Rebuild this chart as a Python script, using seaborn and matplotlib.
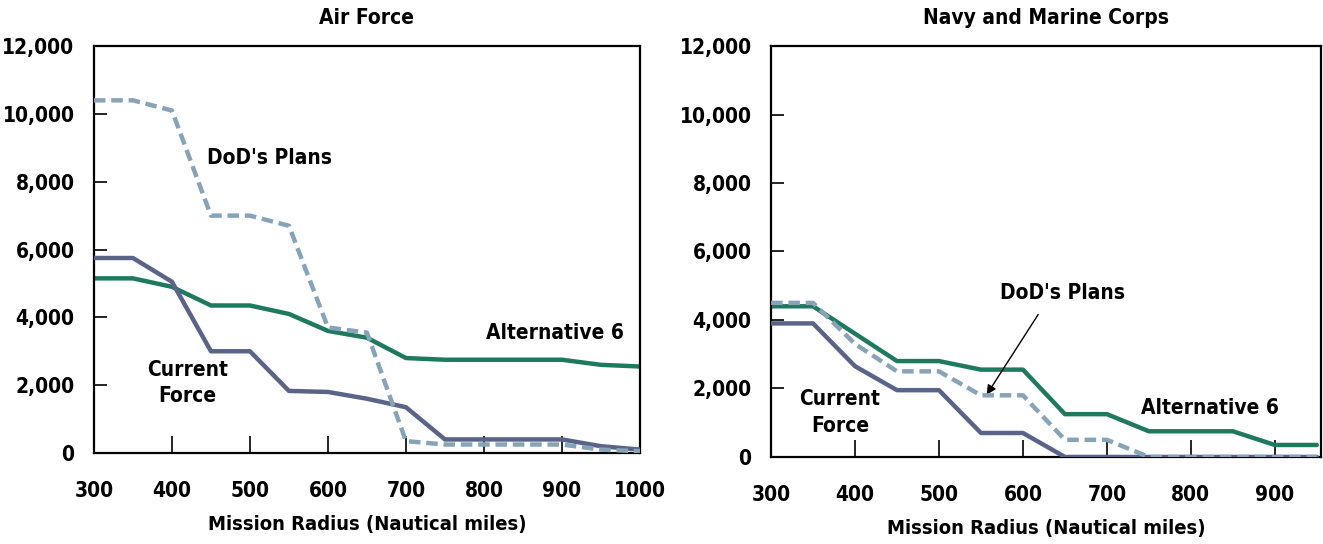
import matplotlib
matplotlib.use("Agg")
import matplotlib.pyplot as plt
import seaborn as sns
import pandas as pd

sns.set_style("white")
plt.rcParams['font.family'] = ['DejaVu Sans']
plt.rcParams['font.stretch'] = 'condensed'
plt.rcParams['text.color'] = 'black'
plt.rcParams['xtick.color'] = 'black'
plt.rcParams['ytick.color'] = 'black'
plt.rcParams['axes.labelcolor'] = 'black'

# Air Force
af_radius = [300, 350, 400, 450, 500, 550, 600, 650, 700, 750, 800, 850, 900, 950, 1000]
af_current = [5750, 5750, 5050, 3000, 3000, 1830, 1800, 1600, 1350, 400, 400, 400, 400, 200, 100]
af_alt6 = [5150, 5150, 4900, 4350, 4350, 4100, 3600, 3400, 2800, 2750, 2750, 2750, 2750, 2600, 2550]
af_dod = [10400, 10400, 10100, 7000, 7000, 6700, 3700, 3550, 350, 250, 250, 250, 250, 100, 50]

# Navy and Marine Corps
nv_radius = [300, 350, 400, 450, 500, 550, 600, 650, 700, 750, 800, 850, 900, 950]
nv_current = [3900, 3900, 2650, 1950, 1950, 700, 700, 0, 0, 0, 0, 0, 0, 0]
nv_alt6 = [4400, 4400, 3600, 2800, 2800, 2550, 2550, 1250, 1250, 750, 750, 750, 350, 350]
nv_dod = [4500, 4500, 3300, 2500, 2500, 1800, 1800, 500, 500, 0, 0, 0, 0, 0]

series_names = ["Current Force", "Alternative 6", "DoD's Plans"]
colors = {"Current Force": "#5a6388", "Alternative 6": "#1e7a5f", "DoD's Plans": "#87a3b7"}
order_draw = ["Alternative 6", "Current Force", "DoD's Plans"]

def make_df(x, cur, alt, dod):
    rows = []
    for s, vals in zip(series_names, [cur, alt, dod]):
        for xi, v in zip(x, vals):
            rows.append({"radius": xi, "value": v, "series": s})
    return pd.DataFrame(rows)

fig = plt.figure(figsize=(13.23, 5.44), dpi=100)
ax1 = fig.add_axes([0.071, 0.1673, 0.4127, 0.748])
ax2 = fig.add_axes([0.5828, 0.1600, 0.4157, 0.7554])

fs = 15
def draw(ax, df, xmax, xticks, title):
    for i, s in enumerate(order_draw):
        sub = df[df.series == s]
        sns.lineplot(data=sub, x="radius", y="value", ax=ax, color=colors[s],
                     linewidth=3.2, legend=False,
                     linestyle=(0, (2.6, 1.3)) if s == "DoD's Plans" else "-",
                     zorder=2 + i, clip_on=True)
    ax.set_xlim(300, xmax)
    ax.set_ylim(0, 12000)
    ax.set_yticks(range(0, 12001, 2000))
    ax.set_yticklabels([f"{v:,}" for v in range(0, 12001, 2000)])
    ax.set_xticks(xticks)
    ax.set_xticklabels([str(v) for v in xticks])
    for sp in ax.spines.values():
        sp.set_visible(True)
        sp.set_color("black")
        sp.set_linewidth(1.6)
    ax.tick_params(axis="y", direction="in", length=9, width=1.2, pad=14,
                   labelsize=fs, left=True, colors="black")
    ax.tick_params(axis="x", direction="in", length=12, width=1.2, pad=20,
                   labelsize=fs, bottom=True, colors="black")
    for lab in ax.get_xticklabels() + ax.get_yticklabels():
        lab.set_fontweight("bold")
        lab.set_fontstretch("condensed")
    ax.set_xlabel("Mission Radius (Nautical miles)", fontsize=fs - 0.5,
                  fontweight="bold", labelpad=10, color="black")
    ax.set_ylabel("")
    ax.set_title(title, fontsize=fs, fontweight="bold", pad=16, color="black")

df1 = make_df(af_radius, af_current, af_alt6, af_dod)
df2 = make_df(nv_radius, nv_current, nv_alt6, nv_dod)
draw(ax1, df1, 1000, list(range(300, 1001, 100)), "Air Force")
draw(ax2, df2, 955, list(range(300, 901, 100)), "Navy and Marine Corps")

tkw = dict(fontsize=fs, fontweight="bold", ha="center", va="center", color="black")
ax1.text(525, 8700, "DoD's Plans", **tkw)
ax1.text(891, 3540, "Alternative 6", **tkw)
ax1.text(420, 2065, "Current\nForce", linespacing=1.4, **tkw)

ax2.text(647, 4790, "DoD's Plans", **tkw)
ax2.text(823, 1430, "Alternative 6", **tkw)
ax2.text(382, 1300, "Current\nForce", linespacing=1.4, **tkw)
ax2.annotate("", xy=(555, 1750), xytext=(620, 4230),
             arrowprops=dict(arrowstyle="-|>", color="black", lw=1.0,
                             mutation_scale=14))

fig.savefig("out.png", dpi=100)
